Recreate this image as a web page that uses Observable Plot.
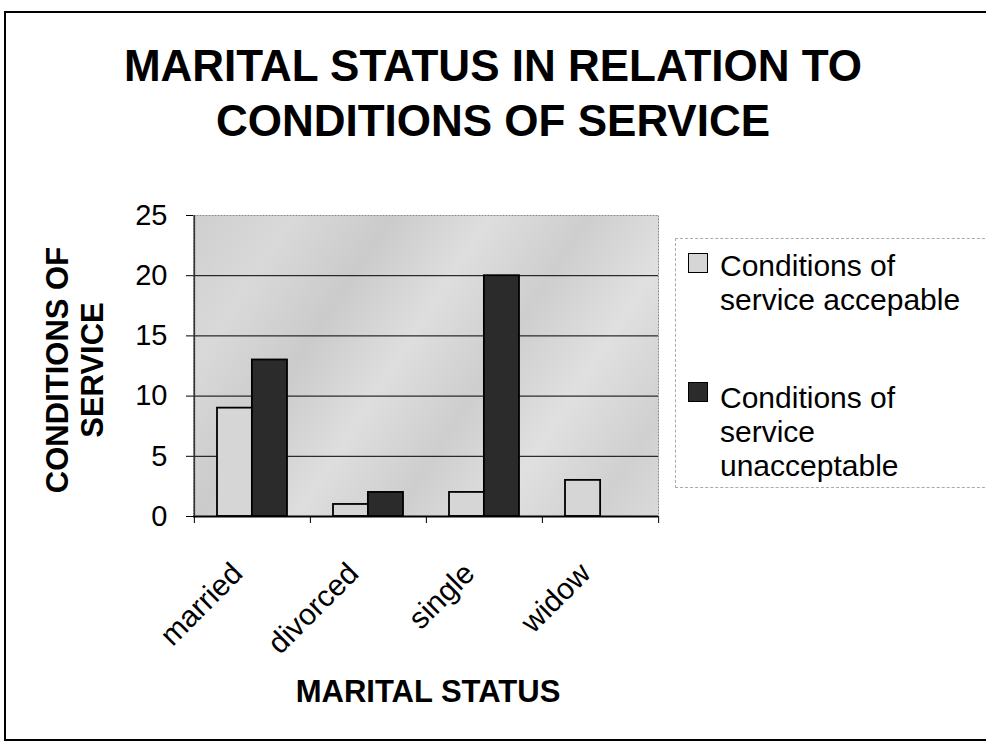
<!DOCTYPE html>
<html><head><meta charset="utf-8">
<script src="https://cdn.jsdelivr.net/npm/d3@7"></script>
<script src="https://cdn.jsdelivr.net/npm/@observablehq/plot@0.6"></script>
<style>
body{margin:0;background:#fff;font-family:"Liberation Sans",Arial,sans-serif;color:#000;}
#wrap{position:relative;width:986px;height:747px;overflow:hidden;}
#border{position:absolute;left:4px;top:11px;width:1000px;height:730px;border:2px solid #000;box-sizing:border-box;}
#chart{position:absolute;left:0;top:0;}
.title{position:absolute;left:0;width:986px;text-align:center;font-weight:bold;font-size:44px;line-height:55px;top:38px;}
.ytitle{position:absolute;width:300px;height:70px;left:-75px;top:335px;transform:rotate(-90deg);text-align:center;font-weight:bold;font-size:31px;line-height:35px;}
.xtitle{position:absolute;left:228px;width:400px;text-align:center;font-weight:bold;font-size:31px;line-height:36px;top:674px;}
.legend{position:absolute;left:675px;top:238px;width:320px;height:250px;border:1px dashed #aaa;box-sizing:border-box;}
.entry{position:absolute;left:720px;font-size:30px;line-height:34px;white-space:nowrap;}
.sw{position:absolute;width:20px;height:20px;border:1px solid #000;box-sizing:border-box;left:688px;}
</style></head>
<body>
<div id="wrap">
  <div id="border"></div>
  <div id="chart"></div>
  <div class="title">MARITAL STATUS IN RELATION TO<br>CONDITIONS OF SERVICE</div>
  <div class="ytitle">CONDITIONS OF<br>SERVICE</div>
  <div class="xtitle">MARITAL STATUS</div>
  <div class="legend"></div>
  <div class="sw" id="sw0" style="top:253px"></div>
  <div class="entry" id="lg0" style="top:249px"></div>
  <div class="sw" id="sw1" style="top:382px"></div>
  <div class="entry" id="lg1" style="top:381px"></div>
</div>
<script>
const categories = ["married", "divorced", "single", "widow"];
const seriesNames = ["Conditions of service accepable", "Conditions of service unacceptable"];
const legendLines = [["Conditions of", "service accepable"], ["Conditions of", "service", "unacceptable"]];
const acceptable = [9, 1, 2, 3];
const unacceptable = [13, 2, 20, 0];
const yTicks = [0, 5, 10, 15, 20, 25];
const gridValues = [5, 10, 15, 20];
const seriesColors = ["#d6d6d6", "#2b2b2b"];

const rows = [];
categories.forEach((c, i) => {
  rows.push({category: c, series: seriesNames[0], value: acceptable[i]});
  rows.push({category: c, series: seriesNames[1], value: unacceptable[i]});
});

const W = 986, H = 747;
const mL = 193, mR = 328, mT = 215, mB = 231;
const step = (W - mL - mR) / categories.length;
const pad = 0.4;
const half = step * (1 - pad) / 2;

const plot = Plot.plot({
  width: W, height: H,
  marginLeft: mL, marginRight: mR, marginTop: mT, marginBottom: mB,
  style: {fontFamily: "'Liberation Sans', Arial, sans-serif", color: "#000", background: "transparent"},
  x: {domain: categories, paddingInner: pad, paddingOuter: pad / 2, label: null},
  y: {domain: [0, 25], label: null},
  marks: [
    Plot.frame({fill: "url(#bgGrad)", stroke: "#8a8a8a", strokeDasharray: "2,1", strokeWidth: 1}),
    Plot.ruleY(gridValues, {stroke: "#000", strokeWidth: 1}),
    Plot.barY(rows.filter(d => d.series === seriesNames[0] && d.value > 0),
      {x: "category", y: "value", fill: seriesColors[0], stroke: "#000", strokeWidth: 1.8, insetRight: half}),
    Plot.barY(rows.filter(d => d.series === seriesNames[1] && d.value > 0),
      {x: "category", y: "value", fill: seriesColors[1], stroke: "#000", strokeWidth: 1.8, insetLeft: half}),
    Plot.ruleY([0], {stroke: "#000", strokeWidth: 2}),
    Plot.ruleX([categories[0]], {dx: -step / 2, stroke: "#333", strokeWidth: 1.5}),
    Plot.axisY({ticks: yTicks, tickSize: 7, tickPadding: 19, fontSize: 29, label: null}),
    Plot.axisX(categories, {tickSize: 7, tickFormat: () => "", dx: -step / 2, label: null}),
    Plot.axisX([categories[categories.length - 1]], {tickSize: 7, tickFormat: () => "", dx: step / 2, label: null}),
    Plot.axisX({tickSize: 0, tickPadding: 52, dx: -15, tickRotate: -45, fontSize: 30, label: null})
  ]
});

// background gradient for plot area
const ns = "http://www.w3.org/2000/svg";
const defs = document.createElementNS(ns, "defs");
const grad = document.createElementNS(ns, "linearGradient");
grad.setAttribute("id", "bgGrad");
grad.setAttribute("gradientUnits", "userSpaceOnUse");
grad.setAttribute("x1", mL); grad.setAttribute("y1", mT);
grad.setAttribute("x2", W - mR); grad.setAttribute("y2", H - mB);
const stops = [[0, "#cfcfcf"], [0.15, "#d9d9d9"], [0.3, "#cbcbcb"], [0.45, "#dedede"], [0.6, "#cecece"], [0.75, "#e0e0e0"], [0.9, "#d0d0d0"], [1, "#dadada"]];
for (const [o, c] of stops) {
  const s = document.createElementNS(ns, "stop");
  s.setAttribute("offset", o); s.setAttribute("stop-color", c);
  grad.appendChild(s);
}
defs.appendChild(grad);
plot.insertBefore(defs, plot.firstChild);
document.getElementById("chart").appendChild(plot);

// legend
seriesNames.forEach((s, i) => {
  document.getElementById("sw" + i).style.background = seriesColors[i];
  document.getElementById("lg" + i).innerHTML = legendLines[i].join("<br>");
});
</script>
</body></html>
